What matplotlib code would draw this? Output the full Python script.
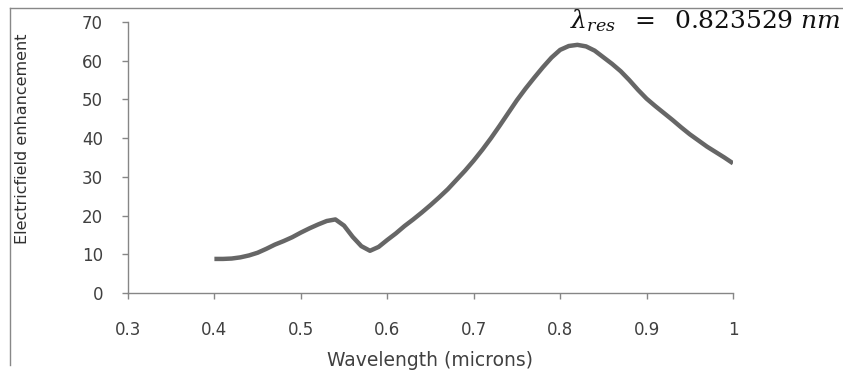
import matplotlib
matplotlib.use("Agg")
import matplotlib.pyplot as plt
from matplotlib.lines import Line2D

# Spectrum: electric field enhancement vs wavelength (microns)
wavelength = [0.40, 0.41, 0.42, 0.43, 0.44, 0.45, 0.46, 0.47, 0.48, 0.49,
              0.50, 0.51, 0.52, 0.53, 0.54, 0.55, 0.56, 0.57, 0.58, 0.59,
              0.60, 0.61, 0.62, 0.63, 0.64, 0.65, 0.66, 0.67, 0.68, 0.69,
              0.70, 0.71, 0.72, 0.73, 0.74, 0.75, 0.76, 0.77, 0.78, 0.79,
              0.80, 0.81, 0.82, 0.83, 0.84, 0.85, 0.86, 0.87, 0.88, 0.89,
              0.90, 0.91, 0.92, 0.93, 0.94, 0.95, 0.96, 0.97, 0.98, 0.99,
              1.00]
enhancement = [8.8, 8.8, 8.9, 9.2, 9.7, 10.4, 11.4, 12.5, 13.4, 14.4,
               15.6, 16.7, 17.7, 18.6, 19.0, 17.4, 14.5, 12.1, 10.9, 11.9,
               13.7, 15.4, 17.3, 19.0, 20.8, 22.7, 24.7, 26.8, 29.2, 31.6,
               34.2, 37.0, 40.0, 43.2, 46.5, 49.8, 52.8, 55.6, 58.3, 60.8,
               62.8, 63.8, 64.1, 63.7, 62.6, 60.9, 59.2, 57.3, 55.0, 52.5,
               50.2, 48.3, 46.5, 44.7, 42.8, 41.0, 39.4, 37.8, 36.4, 35.0,
               33.5]

x_ticks = [0.3, 0.4, 0.5, 0.6, 0.7, 0.8, 0.9, 1.0]
x_tick_labels = ["0.3", "0.4", "0.5", "0.6", "0.7", "0.8", "0.9", "1"]
y_ticks = [0, 10, 20, 30, 40, 50, 60, 70]

plt.rcParams["mathtext.fontset"] = "dejavuserif"

fig = plt.figure(figsize=(8.43, 3.75), dpi=100)
ax = fig.add_axes([0.1518, 0.2187, 0.7177, 0.7226])

ax.plot(wavelength, enhancement, color="#666666", linewidth=3.2,
        solid_capstyle="butt", solid_joinstyle="round")

ax.set_xlim(0.3, 1.0)
ax.set_ylim(0, 70)
ax.set_xticks(x_ticks)
ax.set_xticklabels(x_tick_labels)
ax.set_yticks(y_ticks)

for side in ("top", "right"):
    ax.spines[side].set_visible(False)
for side in ("left", "bottom"):
    ax.spines[side].set_color("#868686")
    ax.spines[side].set_linewidth(1.0)

ax.tick_params(axis="both", direction="out", length=4, width=1.0,
               color="#868686", labelcolor="#404040", labelsize=12)
ax.tick_params(axis="y", pad=14)
ax.tick_params(axis="x", pad=16)

ax.set_xlabel("Wavelength (microns)", fontsize=13.5, color="#404040",
              labelpad=9)
ax.set_ylabel("Electricfield enhancement", fontsize=11.5, color="#303030")
ax.yaxis.set_label_coords(-0.162, 0.57)

fig.text(0.997, 0.945, r"$\lambda_{res}\;\ =\ \;\mathrm{0.823529}\ nm$",
         ha="right", va="center", fontsize=18, color="#111111")

# Frame edges on the left and top
fig.add_artist(Line2D([0.0119, 0.0119], [1 - 8 / 375, 1 - 365 / 375],
                      transform=fig.transFigure, color="#888888", lw=1.0))
fig.add_artist(Line2D([0.0119, 1.0], [1 - 8 / 375, 1 - 8 / 375],
                      transform=fig.transFigure, color="#888888", lw=1.0))

fig.savefig("out.png", dpi=100)
